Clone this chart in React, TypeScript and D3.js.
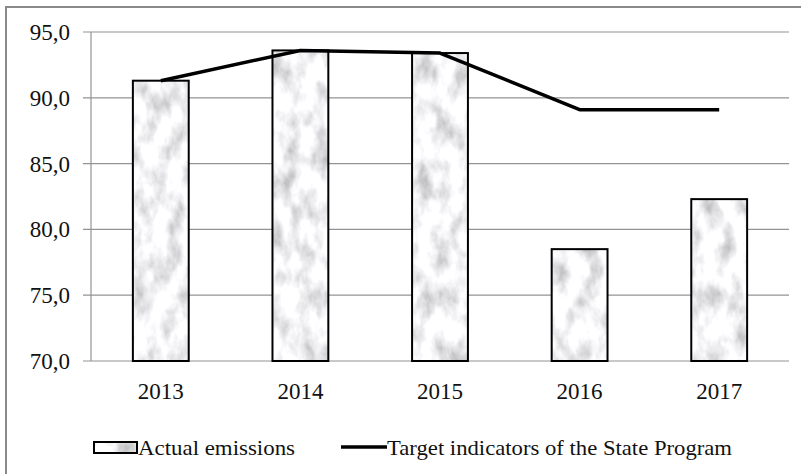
import * as d3 from "d3";

const years = ["2013", "2014", "2015", "2016", "2017"];
const actualEmissions = [91.3, 93.6, 93.4, 78.5, 82.3];
const targetIndicators = [91.3, 93.6, 93.4, 89.1, 89.1];
const yTicks = [70, 75, 80, 85, 90, 95];

const W = 801;
const H = 474;
const font = "'Liberation Serif', 'Times New Roman', serif";

export default function App() {
  const x = d3
    .scaleBand<string>()
    .domain(years)
    .range([91, 789])
    .paddingInner(0.6)
    .paddingOuter(0.3);

  const y = d3.scaleLinear().domain([70, 95]).range([361, 32]);

  const cx = (yr: string) => (x(yr) ?? 0) + x.bandwidth() / 2;

  const line = d3
    .line<number>()
    .x((_, i) => cx(years[i]))
    .y((d) => y(d));

  const fmt = (v: number) => v.toFixed(1).replace(".", ",");

  return (
    <div style={{ position: "fixed", left: 0, top: 0 }}>
      <svg width={W} height={H} style={{ display: "block", background: "#fff" }}>
        <defs>
          <filter id="marble" x="0" y="0" width="100%" height="100%">
            <feTurbulence
              type="fractalNoise"
              baseFrequency="0.06 0.035"
              numOctaves={4}
              seed={7}
              result="noise"
            />
            <feColorMatrix
              in="noise"
              type="matrix"
              values="1.05 0 0 0 0.38  1.05 0 0 0 0.38  1.05 0 0 0 0.4  0 0 0 0 1"
              result="tone"
            />
            <feComposite in="tone" in2="SourceGraphic" operator="in" />
          </filter>
        </defs>

        {/* outer frame (right/bottom fall outside the picture) */}
        <rect x={6} y={7} width={820} height={500} fill="none" stroke="#8a8a8a" strokeWidth={2} />

        {/* grid + y ticks */}
        {yTicks.map((t) => (
          <g key={t}>
            <line x1={83} x2={789} y1={y(t)} y2={y(t)} stroke="#939393" strokeWidth={1.2} />
            <text
              x={70}
              y={y(t)}
              dy="0.35em"
              textAnchor="end"
              fontFamily={font}
              fontSize={23}
              fill="#111"
            >
              {fmt(t)}
            </text>
          </g>
        ))}
        <line x1={91} x2={91} y1={y(95)} y2={y(70)} stroke="#939393" strokeWidth={1.2} />

        {/* bars */}
        {years.map((yr, i) => (
          <g key={yr}>
            <rect
              x={x(yr)}
              y={y(actualEmissions[i])}
              width={x.bandwidth()}
              height={y(70) - y(actualEmissions[i])}
              fill="#ececee"
              filter="url(#marble)"
            />
            <rect
              x={x(yr)}
              y={y(actualEmissions[i])}
              width={x.bandwidth()}
              height={y(70) - y(actualEmissions[i])}
              fill="none"
              stroke="#000"
              strokeWidth={2}
            />
          </g>
        ))}

        {/* target line */}
        <path d={line(targetIndicators) ?? ""} fill="none" stroke="#000" strokeWidth={3.5} strokeLinejoin="round" />

        {/* x labels */}
        {years.map((yr) => (
          <text key={yr} x={cx(yr)} y={399} textAnchor="middle" fontFamily={font} fontSize={23} fill="#111">
            {yr}
          </text>
        ))}

        {/* legend */}
        <rect x={94} y={442} width={43} height={11} fill="#ececee" filter="url(#marble)" />
        <rect x={94} y={442} width={43} height={11} fill="none" stroke="#000" strokeWidth={2} />
        <text x={138} y={455} fontFamily={font} fontSize={22} fill="#111" textLength={157} lengthAdjust="spacingAndGlyphs">
          Actual emissions
        </text>
        <line x1={341} x2={387} y1={447} y2={447} stroke="#000" strokeWidth={3.5} />
        <text x={387} y={455} fontFamily={font} fontSize={22} fill="#111" textLength={345} lengthAdjust="spacingAndGlyphs">
          Target indicators of the State Program
        </text>
      </svg>
    </div>
  );
}
